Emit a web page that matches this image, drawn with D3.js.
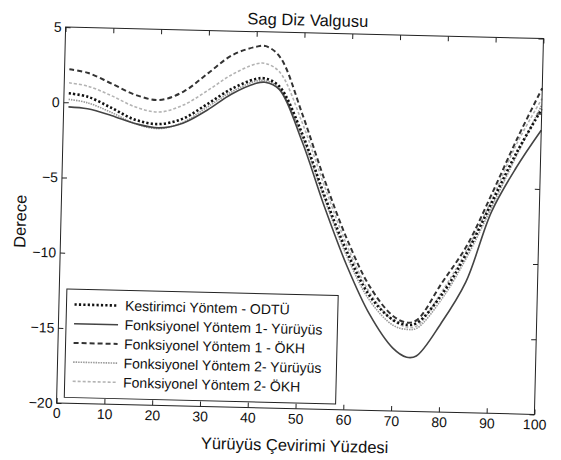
<!DOCTYPE html>
<html>
<head>
<meta charset="utf-8">
<script src="https://cdn.jsdelivr.net/npm/d3@7"></script>
<style>
  body { margin: 0; background: #fff; }
  text { font-family: "Liberation Sans", Arial, sans-serif; fill: #111; }
</style>
</head>
<body>
<div id="chart"></div>
<script>
const width = 561;
const height = 460;

// gait cycle percentage where the curves were read
const pct = [1, 5, 10, 15, 20, 25, 30, 35, 40, 42, 45, 50, 55, 60, 65, 70, 73, 75, 80, 85, 90, 95, 100];

const odtu = [0.6, 0.4, -0.3, -1.05, -1.3, -0.9, 0.1, 1.15, 1.85, 1.9, 1.4, -1.7, -5.8, -9.5, -12.4, -13.95, -14.25, -14.1, -12.2, -9.4, -6.0, -2.6, 0.3];
const yur1 = [-0.3, -0.4, -0.8, -1.3, -1.55, -1.2, -0.3, 0.8, 1.55, 1.65, 1.2, -2.2, -6.5, -10.4, -13.6, -15.8, -16.4, -16.3, -14.1, -11.3, -6.6, -3.6, -1.1];
const okh1 = [2.2, 1.98, 1.3, 0.6, 0.3, 0.9, 2.15, 3.4, 4.0, 4.05, 3.35, -0.45, -4.8, -8.7, -11.8, -13.7, -14.1, -13.9, -11.4, -8.9, -5.4, -1.7, 1.7];
const yur2 = [0.2, 0.0, -0.6, -1.3, -1.6, -1.15, -0.1, 0.95, 1.7, 1.75, 1.3, -1.9, -6.0, -9.8, -12.7, -14.3, -14.55, -14.45, -12.5, -9.7, -6.3, -2.8, 0.6];
const okh2 = [1.3, 1.1, 0.5, -0.2, -0.5, 0.0, 1.0, 2.1, 2.85, 2.9, 2.35, -1.0, -5.2, -9.1, -12.2, -14.0, -14.4, -14.3, -12.0, -9.2, -5.8, -2.0, 1.0];

const seriesNames = [
  "Kestirimci Yöntem - ODTÜ",
  "Fonksiyonel Yöntem 1- Yürüyüs",
  "Fonksiyonel Yöntem 1 - ÖKH",
  "Fonksiyonel Yöntem 2- Yürüyüs",
  "Fonksiyonel Yöntem 2- ÖKH"
];
const xTicks = [0, 10, 20, 30, 40, 50, 60, 70, 80, 90, 100];
const yTicks = [5, 0, -5, -10, -15, -20];

const styles = [
  { color: "#111", w: 2.6, dash: "2.2,2.2" },
  { color: "#444", w: 1.6, dash: null },
  { color: "#333", w: 2, dash: "5,3" },
  { color: "#999", w: 1.6, dash: "1.5,1" },
  { color: "#b3b3b3", w: 1.6, dash: "3,2" }
];

const series = [odtu, yur1, okh1, yur2, okh2].map((vals, i) => ({
  name: seriesNames[i],
  style: styles[i],
  points: pct.map((p, j) => ({ x: p, y: vals[j] }))
}));

const box = { left: 61, right: 539, top: 32.75, bottom: 408.75 };

const svg = d3.select("#chart")
  .append("svg")
  .attr("width", width)
  .attr("height", height);

// the scanned page is a little tilted
const g = svg.append("g")
  .attr("transform", "rotate(1.38, 300, 220.75)");

const x = d3.scaleLinear().domain([0, 100]).range([box.left, box.right]);
const y = d3.scaleLinear().domain([-20, 5]).range([box.bottom, box.top]);

const line = d3.line()
  .x(d => x(d.x))
  .y(d => y(d.y))
  .curve(d3.curveCatmullRom);

// light ones underneath, dark on top
const drawOrder = [4, 3, 1, 0, 2];
drawOrder.forEach(i => {
  const s = series[i];
  g.append("path")
    .datum(s.points)
    .attr("fill", "none")
    .attr("stroke", s.style.color)
    .attr("stroke-width", s.style.w)
    .attr("stroke-dasharray", s.style.dash)
    .attr("d", line);
});

function styleAxis(sel) {
  sel.select(".domain").remove();
  sel.selectAll(".tick line").attr("stroke", "#222");
  sel.selectAll(".tick text")
    .attr("fill", "#111")
    .style("font-size", "14px")
    .style("font-family", "'Liberation Sans', Arial, sans-serif");
}

g.append("g")
  .attr("transform", `translate(0,${box.bottom})`)
  .call(d3.axisBottom(x).tickValues(xTicks).tickSizeInner(-5).tickSizeOuter(0).tickPadding(5))
  .call(styleAxis);

g.append("g")
  .attr("transform", `translate(0,${box.top})`)
  .call(d3.axisTop(x).tickValues(xTicks).tickSizeInner(-5).tickSizeOuter(0).tickFormat(""))
  .call(styleAxis);

g.append("g")
  .attr("transform", `translate(${box.left},0)`)
  .call(d3.axisLeft(y).tickValues(yTicks).tickSizeInner(-5).tickSizeOuter(0).tickPadding(4))
  .call(styleAxis);

g.append("g")
  .attr("transform", `translate(${box.right},0)`)
  .call(d3.axisRight(y).tickValues(yTicks).tickSizeInner(-5).tickSizeOuter(0).tickFormat(""))
  .call(styleAxis);

g.append("rect")
  .attr("x", box.left)
  .attr("y", box.top)
  .attr("width", box.right - box.left)
  .attr("height", box.bottom - box.top)
  .attr("fill", "none")
  .attr("stroke", "#222")
  .attr("stroke-width", 1);

// legend
const legend = g.append("g").attr("transform", "translate(68.6,294.6)");
legend.append("rect")
  .attr("width", 271.4)
  .attr("height", 108.4)
  .attr("fill", "#fff")
  .attr("stroke", "#222")
  .attr("stroke-width", 1);

series.forEach((s, i) => {
  const row = legend.append("g").attr("transform", `translate(0,${15.3 + i * 19.2})`);
  row.append("line")
    .attr("x1", 8).attr("x2", 52)
    .attr("y1", 0).attr("y2", 0)
    .attr("stroke", s.style.color)
    .attr("stroke-width", s.style.w)
    .attr("stroke-dasharray", s.style.dash);
  row.append("text")
    .attr("x", 58.5)
    .attr("dy", "0.35em")
    .style("font-size", "14px")
    .text(s.name);
});

g.append("text")
  .attr("x", 303)
  .attr("y", 25.5)
  .attr("text-anchor", "middle")
  .style("font-size", "16.5px")
  .text("Sag Diz Valgusu");

g.append("text")
  .attr("x", 300)
  .attr("y", 451)
  .attr("text-anchor", "middle")
  .style("font-size", "16.5px")
  .text("Yürüyüs Çevirimi Yüzdesi");

g.append("text")
  .attr("transform", "translate(26,228) rotate(-90)")
  .attr("text-anchor", "middle")
  .style("font-size", "16.5px")
  .text("Derece");
</script>
</body>
</html>
